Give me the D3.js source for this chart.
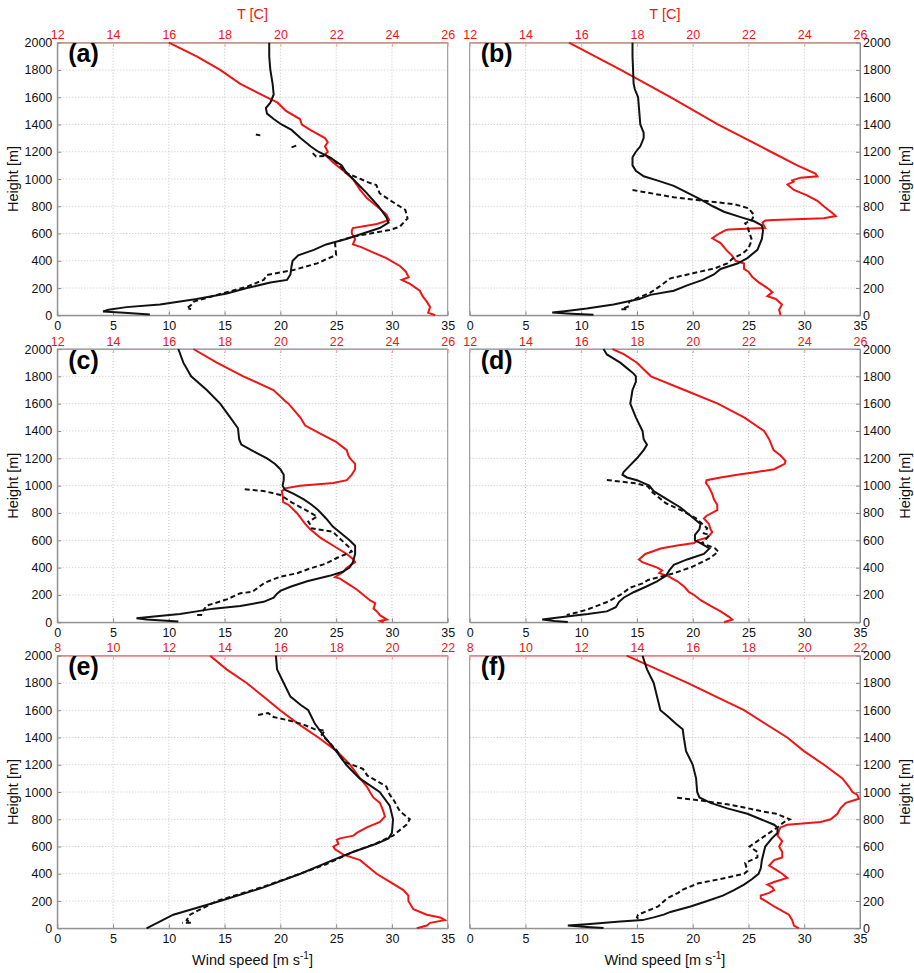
<!DOCTYPE html>
<html>
<head>
<meta charset="utf-8">
<script src="https://cdn.jsdelivr.net/npm/d3@7"></script>
<style>
body{margin:0;background:#fff}
svg text{font-family:"Liberation Sans",Arial,Helvetica,sans-serif}
</style>
</head>
<body>
<div id="chart"></div>
<script>
// tick values
var windTicks = [0,5,10,15,20,25,30,35]
var heightTicks = [0,200,400,600,800,1000,1200,1400,1600,1800,2000]
var tempTicksWarm = [12,14,16,18,20,22,24,26]
var tempTicksCool = [8,10,12,14,16,18,20,22]

// [height m, value]; null value = gap in the dashed profile
var windA = [[2000,19.0],[1900,19.0],[1800,19.1],[1700,19.3],[1620,19.4],[1560,19.1],[1520,18.7],[1480,18.8],[1440,19.4],[1400,20.1],[1360,21.0],[1300,21.8],[1240,22.7],[1200,23.4],[1160,24.4],[1100,25.5],[1060,25.8],[1000,26.5],[900,27.7],[800,28.8],[720,29.5],[680,29.7],[640,28.9],[600,27.4],[560,25.9],[520,24.1],[480,23.0],[440,21.6],[400,21.1],[360,21.0],[300,20.9],[260,20.6],[240,19.1],[200,17.0],[160,15.2],[120,12.5],[80,9.2],[60,6.2],[40,4.6],[28,4.1],[18,6.0],[6,8.3]]
var obsA = [[1326,17.8],[1320,18.2],[1318,null],[1232,21.0],[1250,21.6],[1240,null],[1190,22.9],[1165,23.2],[1170,24.0],[1150,24.6],[1100,25.3],[1050,25.8],[1040,26.0],[1000,27.2],[980,27.7],[956,28.6],[895,28.9],[846,29.8],[773,31.2],[711,31.4],[650,30.7],[626,29.8],[577,26.5],[540,25.0],[528,24.9],[442,25.0],[418,24.3],[381,23.3],[333,21.2],[296,18.8],[259,18.5],[210,17.0],[149,14.3],[100,12.2],[76,12.0],[51,11.6],[47,12.0]]
var tempA = [[2000,16.0],[1900,17.0],[1800,17.84],[1700,18.55],[1600,19.5],[1560,19.9],[1500,20.2],[1440,20.7],[1400,20.77],[1360,21.07],[1300,21.6],[1270,21.7],[1240,21.6],[1200,21.7],[1180,21.6],[1160,21.7],[1120,21.9],[1060,22.26],[1000,22.6],[920,22.86],[860,23.1],[800,23.46],[740,23.8],[700,23.9],[670,23.46],[640,22.6],[620,22.56],[600,22.56],[560,22.68],[520,22.6],[500,22.9],[460,23.34],[420,23.8],[360,24.3],[320,24.5],[280,24.6],[260,24.35],[230,24.65],[180,25.0],[140,25.1],[100,25.25],[60,25.37],[20,25.3],[0,25.55]]

var windB = [[2000,14.6],[1900,14.6],[1700,14.7],[1660,14.8],[1600,15.1],[1500,15.2],[1400,15.3],[1340,15.6],[1300,15.6],[1240,15.3],[1200,14.9],[1160,14.6],[1100,14.6],[1060,14.9],[1020,15.6],[990,16.8],[950,18.3],[900,19.5],[850,20.7],[800,21.8],[760,22.8],[720,24.3],[690,25.5],[660,26.2],[620,26.3],[560,26.2],[480,25.8],[420,24.9],[380,24.0],[340,22.5],[300,21.9],[260,20.9],[220,19.5],[180,18.3],[150,16.2],[120,15.2],[80,12.9],[50,10.5],[30,8.5],[20,7.4],[12,9.1],[4,11.1]]
var obsB = [[919,14.6],[905,15.6],[866,18.3],[846,20.4],[814,23.8],[785,25.0],[736,25.5],[699,25.3],[675,24.7],[650,24.9],[553,25.3],[491,25.0],[455,24.5],[418,23.6],[381,23.1],[345,22.0],[308,20.0],[271,18.0],[210,17.0],[166,16.2],[125,15.0],[100,14.3],[68,14.3],[44,13.6],[44,14.3]]
var tempB = [[2000,15.56],[1800,17.42],[1600,19.2],[1400,20.9],[1200,22.8],[1100,23.75],[1040,24.4],[1020,24.47],[1010,23.87],[990,23.57],[980,23.62],[960,23.4],[950,23.45],[920,23.63],[880,24.1],[840,24.47],[800,24.7],[760,24.95],[740,25.07],[728,25.13],[712,24.7],[700,22.9],[695,22.6],[680,22.5],[660,22.55],[640,22.6],[630,21.3],[625,21.18],[600,20.95],[565,20.7],[530,21.0],[480,21.2],[440,21.4],[400,21.54],[380,21.84],[340,21.84],[320,22.0],[280,22.14],[240,22.38],[200,22.68],[170,22.86],[140,22.68],[120,22.98],[80,23.2],[60,23.15],[40,23.1],[0,23.15]]

var windC = [[2000,10.85],[1900,11.3],[1800,12.0],[1700,13.4],[1600,14.6],[1500,15.5],[1420,16.2],[1340,16.3],[1300,16.5],[1250,17.6],[1200,18.8],[1160,19.5],[1120,20.0],[1080,20.3],[1040,20.3],[1000,20.2],[970,20.4],[940,21.2],[900,22.1],[860,22.8],[820,23.4],[760,24.1],[700,24.7],[640,25.6],[600,26.2],[560,26.7],[500,26.7],[440,26.5],[400,26.2],[370,25.6],[340,24.4],[300,22.4],[260,20.9],[230,20.0],[210,19.7],[180,19.4],[150,18.5],[120,16.4],[100,14.0],[80,12.5],[60,11.0],[45,8.9],[30,7.1],[20,8.0],[5,10.85]]
var obsC = [[973,16.8],[961,18.5],[932,20.0],[878,21.0],[829,22.1],[773,23.3],[737,22.5],[700,22.8],[688,22.8],[663,24.7],[615,25.3],[554,26.1],[517,26.4],[476,25.2],[427,24.0],[395,22.7],[359,21.5],[334,20.0],[290,18.6],[224,17.5],[212,16.4],[168,15.2],[122,13.4],[78,13.0],[54,12.9],[54,12.3]]
var tempC = [[2000,16.88],[1900,17.72],[1800,18.67],[1700,19.75],[1620,20.17],[1600,20.29],[1500,20.71],[1440,20.89],[1380,21.43],[1320,22.0],[1260,22.38],[1220,22.44],[1200,22.5],[1160,22.68],[1120,22.68],[1080,22.56],[1040,22.38],[1020,21.9],[1000,20.7],[980,20.17],[960,20.05],[920,20.09],[880,20.1],[860,20.29],[800,20.59],[720,20.89],[680,21.07],[620,21.43],[560,21.9],[500,22.38],[460,22.62],[440,22.68],[400,22.38],[370,22.26],[330,21.96],[320,22.14],[280,22.44],[240,22.74],[200,22.98],[160,23.22],[140,23.4],[100,23.34],[80,23.46],[50,23.58],[20,23.82],[10,23.58],[0,23.7]]

var windD = [[2000,12.0],[1960,12.3],[1900,13.5],[1860,14.1],[1820,14.7],[1800,14.9],[1760,14.9],[1700,14.6],[1600,14.4],[1500,14.9],[1400,15.5],[1340,15.6],[1300,15.9],[1260,15.6],[1200,15.0],[1150,14.4],[1100,13.8],[1080,13.7],[1060,14.1],[1040,15.0],[1000,16.1],[960,16.5],[900,17.7],[840,18.9],[780,19.8],[740,20.4],[720,20.7],[680,20.6],[640,20.2],[600,20.2],[580,20.7],[540,21.5],[500,21.0],[460,19.5],[420,18.3],[380,17.9],[340,17.6],[300,16.8],[260,15.8],[220,14.7],[180,13.8],[150,13.4],[110,13.1],[80,12.3],[60,10.6],[40,8.5],[20,6.5],[10,7.6],[3,8.8]]
var obsD = [[1041,12.3],[1030,13.5],[1017,14.9],[993,16.0],[950,16.4],[871,17.6],[822,18.9],[761,20.3],[688,21.3],[651,21.0],[640,21.5],[590,21.0],[580,20.8],[541,22.0],[517,22.3],[468,21.5],[407,20.0],[359,18.3],[310,16.0],[285,15.5],[254,14.4],[200,13.5],[151,12.4],[95,10.6],[71,9.6],[54,8.7]]
var tempD = [[2000,17.12],[1960,17.54],[1900,18.0],[1800,18.5],[1700,19.7],[1600,20.9],[1500,21.84],[1400,22.56],[1340,22.74],[1260,22.9],[1220,23.15],[1180,23.33],[1160,23.3],[1120,22.92],[1100,22.3],[1080,21.6],[1060,21.0],[1040,20.5],[1020,20.47],[990,20.58],[940,20.7],[900,20.76],[860,20.88],[820,20.88],[780,20.5],[760,20.4],[720,20.58],[680,20.64],[660,20.7],[620,20.53],[600,20.17],[580,20.05],[560,19.39],[540,18.85],[500,18.3],[460,18.07],[440,18.19],[400,18.73],[380,18.9],[360,18.8],[340,19.1],[300,19.45],[260,19.7],[220,19.87],[200,20.05],[160,20.3],[120,20.64],[80,21.0],[40,21.3],[20,21.42],[0,21.12]]

var windE = [[2000,19.6],[1900,19.7],[1800,20.3],[1700,20.9],[1640,21.8],[1600,22.5],[1500,23.1],[1400,24.0],[1300,25.0],[1200,25.9],[1100,27.1],[1000,28.9],[900,29.8],[800,30.1],[700,30.0],[660,29.7],[620,28.6],[560,26.5],[500,24.7],[400,21.8],[300,18.5],[200,14.6],[100,10.4],[0,8.0]]
var obsE = [[1565,18.0],[1580,18.9],[1550,19.4],[1530,20.5],[1500,21.9],[1460,23.1],[1450,24.0],[1420,23.7],[1310,25.0],[1222,25.7],[1170,27.4],[1120,27.8],[1040,29.5],[980,29.8],[950,30.1],[860,30.7],[800,31.6],[760,31.3],[680,30.1],[620,28.5],[560,26.5],[470,24.1],[410,22.1],[300,18.3],[200,14.3],[100,11.9],[60,11.6],[40,12.0],[40,11.2]]
var tempE = [[2000,13.48],[1900,14.07],[1800,14.79],[1700,15.39],[1600,15.99],[1500,16.64],[1400,17.36],[1300,18.02],[1200,18.5],[1100,18.86],[1040,19.1],[1000,19.21],[960,19.33],[920,19.57],[860,19.69],[820,19.75],[780,19.57],[740,19.1],[700,18.74],[680,18.62],[660,18.14],[650,18.02],[620,18.08],[600,17.9],[580,17.96],[540,18.26],[500,18.86],[440,19.21],[400,19.45],[340,19.93],[280,20.41],[240,20.59],[200,20.59],[140,20.77],[100,21.25],[80,21.73],[60,21.9],[40,21.37],[20,21.25],[0,20.89]]

var windF = [[2000,15.5],[1900,15.9],[1800,16.5],[1700,16.8],[1600,17.1],[1560,17.7],[1500,18.5],[1460,19.1],[1400,19.2],[1300,19.4],[1200,20.0],[1100,20.3],[1000,20.4],[960,20.6],[920,21.6],[880,23.1],[840,24.9],[800,26.1],[760,27.3],[740,27.6],[700,27.6],[660,27.1],[600,26.5],[500,26.2],[440,26.1],[400,25.9],[360,25.3],[320,24.6],[280,23.7],[240,22.7],[200,21.3],[160,19.8],[120,18.0],[100,17.4],[80,16.5],[60,15.5],[50,13.5],[30,10.5],[20,8.8],[10,10.5],[3,12.0]]
var obsF = [[958,18.6],[940,20.5],[910,23.1],[880,25.0],[860,26.1],[840,27.5],[800,28.7],[780,28.2],[740,27.6],[680,26.5],[640,25.8],[600,25.1],[560,25.8],[520,25.8],[480,24.7],[420,24.9],[400,24.6],[360,22.4],[330,20.5],[280,19.0],[260,18.7],[220,17.7],[160,16.9],[100,15.1],[80,15.0],[60,15.3]]
var tempF = [[2000,13.63],[1800,15.81],[1600,17.84],[1400,19.39],[1300,19.99],[1200,20.71],[1100,21.37],[1040,21.6],[1000,21.73],[980,21.9],[950,21.96],[920,21.49],[880,21.3],[840,21.19],[800,20.95],[780,20.59],[760,19.39],[740,19.15],[720,19.1],[680,19.04],[640,19.21],[600,19.1],[560,19.21],[520,19.21],[500,18.92],[460,18.74],[430,18.98],[400,19.21],[370,19.39],[340,18.92],[320,18.68],[300,18.86],[280,18.92],[260,18.74],[240,18.44],[220,18.44],[200,18.62],[160,18.92],[120,19.27],[100,19.45],[60,19.57],[20,19.63],[0,19.81]]

var panels = [
    {label:"(a)", col:0, row:0, temps:tempTicksWarm, wind:windA, obs:obsA, temp:tempA},
    {label:"(b)", col:1, row:0, temps:tempTicksWarm, wind:windB, obs:obsB, temp:tempB},
    {label:"(c)", col:0, row:1, temps:tempTicksWarm, wind:windC, obs:obsC, temp:tempC},
    {label:"(d)", col:1, row:1, temps:tempTicksWarm, wind:windD, obs:obsD, temp:tempD},
    {label:"(e)", col:0, row:2, temps:tempTicksCool, wind:windE, obs:obsE, temp:tempE},
    {label:"(f)", col:1, row:2, temps:tempTicksCool, wind:windF, obs:obsF, temp:tempF}
]

var colX = [[57.3,447.7],[469.7,860]]
var rowY = [[42.7,315.3],[349,622.3],[655.7,928.3]]
var red = "#f01414"
var font = "Liberation Sans, Arial, Helvetica, sans-serif"

var svg = d3.select("#chart").append("svg")
    .attr("width",914)
    .attr("height",973)

panels.forEach(function(p){
    var x0 = colX[p.col][0], x1 = colX[p.col][1]
    var yt = rowY[p.row][0], yb = rowY[p.row][1]
    var x = d3.scaleLinear().domain([0,35]).range([x0,x1])
    var t = d3.scaleLinear().domain([p.temps[0],p.temps[p.temps.length-1]]).range([x0,x1])
    var y = d3.scaleLinear().domain([0,2000]).range([yb,yt])
    var g = svg.append("g")

    // dotted grid
    g.selectAll(".vgrid").data(windTicks.slice(1,-1)).enter().append("line")
        .attr("x1",function(d){ return x(d) }).attr("x2",function(d){ return x(d) })
        .attr("y1",yt).attr("y2",yb)
        .attr("stroke","#c4c4c4").attr("stroke-dasharray","1,2")
    g.selectAll(".hgrid").data(heightTicks.slice(1,-1)).enter().append("line")
        .attr("y1",function(d){ return y(d) }).attr("y2",function(d){ return y(d) })
        .attr("x1",x0).attr("x2",x1)
        .attr("stroke","#c4c4c4").attr("stroke-dasharray","1,2")

    // frame
    g.append("rect").attr("x",x0).attr("y",yt).attr("width",x1-x0).attr("height",yb-yt)
        .attr("fill","none").attr("stroke","#8c8c8c")

    var bottom = g.append("g").attr("transform","translate(0,"+yb+")")
        .call(d3.axisBottom(x).tickValues(windTicks).tickSizeInner(-4).tickSizeOuter(0).tickPadding(6))
    bottom.selectAll("text").attr("fill","#111")

    var top = g.append("g").attr("transform","translate(0,"+yt+")")
        .call(d3.axisTop(t).tickValues(p.temps).tickSizeInner(-4).tickSizeOuter(0).tickPadding(3.4))
    top.selectAll("text").attr("fill",red)
    top.select(".domain").attr("stroke","#ff7a7a")

    var side
    if(p.col == 0){
        side = g.append("g").attr("transform","translate("+x0+",0)")
            .call(d3.axisLeft(y).tickValues(heightTicks).tickFormat(d3.format("d"))
                .tickSizeInner(-4).tickSizeOuter(0).tickPadding(5))
    }
    else{
        side = g.append("g").attr("transform","translate("+x1+",0)")
            .call(d3.axisRight(y).tickValues(heightTicks).tickFormat(d3.format("d"))
                .tickSizeInner(-4).tickSizeOuter(0).tickPadding(3))
    }
    side.selectAll("text").attr("fill","#111")

    ;[bottom, side].forEach(function(a){
        a.attr("font-size",12.5).attr("font-family",font)
        a.select(".domain").attr("stroke","#8c8c8c")
        a.selectAll(".tick line").attr("stroke","#8c8c8c")
    })
    top.attr("font-size",12.5).attr("font-family",font)
    top.selectAll(".tick line").attr("stroke","#ff9a9a")

    // profiles
    var windLine = d3.line()
        .defined(function(d){ return d[1] != null })
        .x(function(d){ return x(d[1]) })
        .y(function(d){ return y(d[0]) })
    var tempLine = d3.line()
        .x(function(d){ return t(d[1]) })
        .y(function(d){ return y(d[0]) })

    g.append("path").datum(p.temp).attr("d",tempLine)
        .attr("fill","none").attr("stroke",red).attr("stroke-width",2)
    g.append("path").datum(p.obs).attr("d",windLine)
        .attr("fill","none").attr("stroke","#111").attr("stroke-width",2)
        .attr("stroke-dasharray","5,3")
    g.append("path").datum(p.wind).attr("d",windLine)
        .attr("fill","none").attr("stroke","#111").attr("stroke-width",2)

    g.append("text").attr("x",x0+11).attr("y",yt+19.5)
        .attr("font-size",25).attr("font-weight","bold").attr("fill","#000")
        .text(p.label)

    var ymid = (yt+yb)/2
    var hx = p.col == 0 ? 18 : 909.5
    g.append("text").attr("transform","translate("+hx+","+ymid+") rotate(-90)")
        .attr("text-anchor","middle").attr("font-size",14.5).attr("fill","#111")
        .text("Height [m]")

    if(p.row == 0){
        g.append("text").attr("x",(x0+x1)/2).attr("y",19)
            .attr("text-anchor","middle").attr("font-size",14.5).attr("fill",red)
            .text("T [C]")
    }
    if(p.row == 2){
        var lab = g.append("text").attr("x",(x0+x1)/2).attr("y",965)
            .attr("text-anchor","middle").attr("font-size",14.5).attr("fill","#111")
        lab.append("tspan").text("Wind speed [m s")
        lab.append("tspan").attr("dy",-6).attr("font-size",10).text("-1")
        lab.append("tspan").attr("dy",6).text("]")
    }
})
</script>
</body>
</html>
